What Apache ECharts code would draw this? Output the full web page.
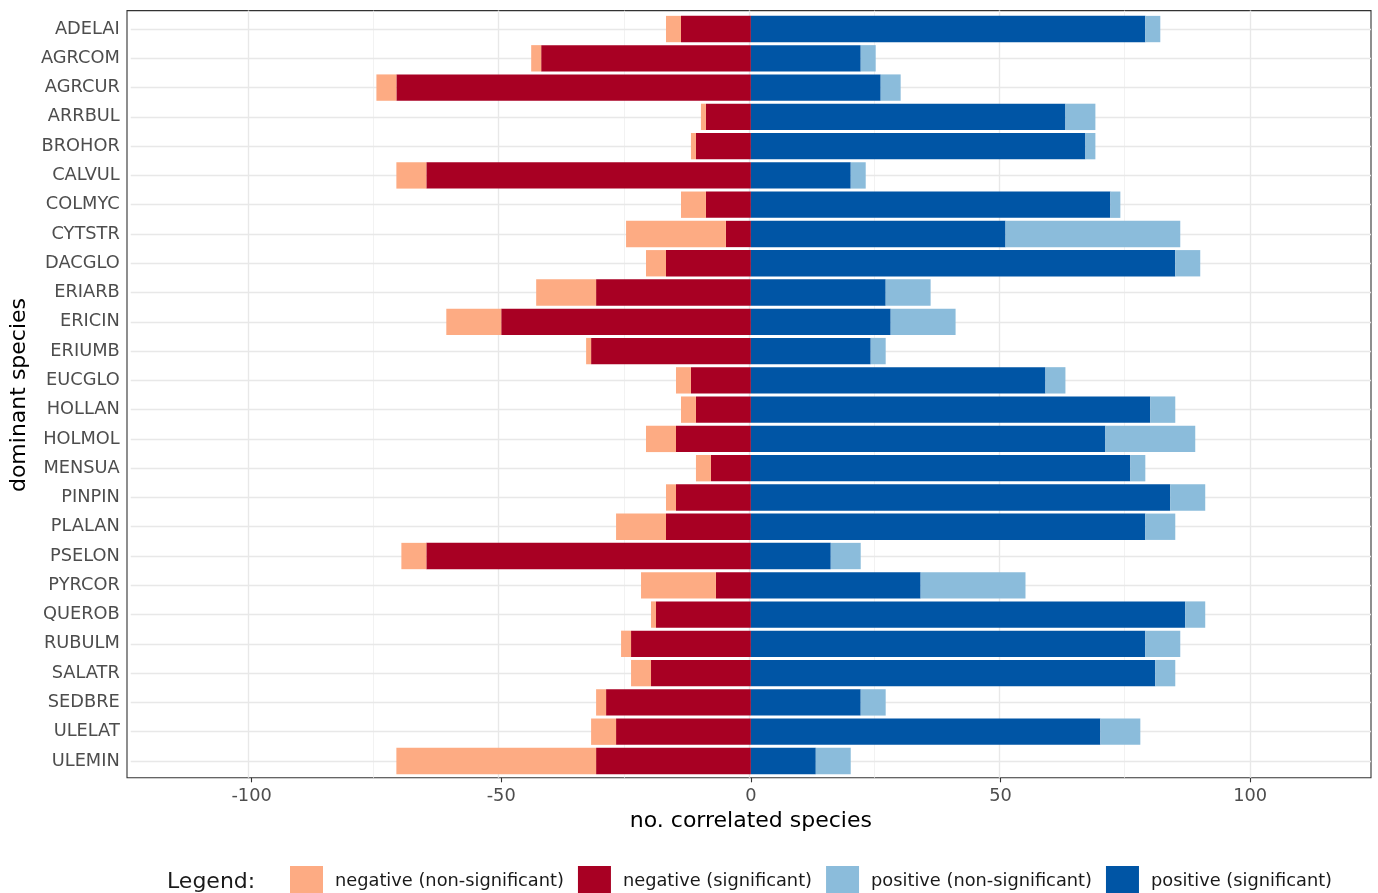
<!DOCTYPE html>
<html>
<head>
<meta charset="utf-8">
<title>Correlated species per dominant species</title>
<script src="https://cdn.jsdelivr.net/npm/echarts@6/dist/echarts.min.js"></script>
<style>
  html, body { margin: 0; padding: 0; background: #ffffff; }
  #chart { width: 1378px; height: 893px; }
</style>
</head>
<body>
<div id="chart"></div>
<script>
// Dominant species (top to bottom)
const species = ['ADELAI', 'AGRCOM', 'AGRCUR', 'ARRBUL', 'BROHOR', 'CALVUL', 'COLMYC', 'CYTSTR',
  'DACGLO', 'ERIARB', 'ERICIN', 'ERIUMB', 'EUCGLO', 'HOLLAN', 'HOLMOL', 'MENSUA', 'PINPIN',
  'PLALAN', 'PSELON', 'PYRCOR', 'QUEROB', 'RUBULM', 'SALATR', 'SEDBRE', 'ULELAT', 'ULEMIN'];

// Number of negatively correlated species (counts, drawn to the left of zero)
const negSignificant    = [14, 42, 71, 9, 11, 65, 9, 5, 17, 31, 50, 32, 12, 11, 15, 8, 15, 17, 65, 7, 19, 24, 20, 29, 27, 31];
const negNonSignificant = [3, 2, 4, 1, 1, 6, 5, 20, 4, 12, 11, 1, 3, 3, 6, 3, 2, 10, 5, 15, 1, 2, 4, 2, 5, 40];

// Number of positively correlated species
const posSignificant    = [79, 22, 26, 63, 67, 20, 72, 51, 85, 27, 28, 24, 59, 80, 71, 76, 84, 79, 16, 34, 87, 79, 81, 22, 70, 13];
const posNonSignificant = [3, 3, 4, 6, 2, 3, 2, 35, 5, 9, 13, 3, 4, 5, 18, 3, 7, 6, 6, 21, 4, 7, 4, 5, 8, 7];

// Axis ticks
const xTicks = [-100, -50, 0, 50, 100];
const xMinorTicks = [-75, -25, 25, 75];
const xLimit = 124.2;

const FONT = 'DejaVu Sans';
const colors = {
  negNon: '#FDAB83',
  negSig: '#A80023',
  posNon: '#8BBCDB',
  posSig: '#0055A5'
};

const majorLine = { color: '#E8E8E8', width: 1.4, type: 'solid' };
const minorLine = { color: '#EFEFEF', width: 0.8, type: 'solid' };

const chart = echarts.init(document.getElementById('chart'), null, { renderer: 'canvas' });

const barSeries = (name, values, color, sign) => ({
  name: name,
  type: 'bar',
  stack: 'total',
  xAxisIndex: 0,
  yAxisIndex: 0,
  barWidth: '90%',
  z: 3,
  itemStyle: { color: color },
  data: values.map(v => sign * v)
});

chart.setOption({
  animation: false,
  textStyle: { fontFamily: FONT },
  grid: [
    // panel frame
    { left: 127, right: 7, top: 10.6, bottom: 115.2, show: true, backgroundColor: '#ffffff',
      borderColor: '#333333', borderWidth: 1.1, containLabel: false },
    // data area (categories padded like the frame)
    { left: 127, right: 7, top: 14.4, bottom: 117.4, show: false, containLabel: false }
  ],
  xAxis: [
    {
      type: 'value', gridIndex: 1, min: -xLimit, max: xLimit, offset: 2.2,
      axisLine: { show: false },
      axisTick: { show: true, length: 4.5, customValues: xTicks, lineStyle: { color: '#333333', width: 1.1 } },
      axisLabel: { customValues: xTicks, fontSize: 17.8, color: '#4D4D4D', margin: 9.5, fontFamily: FONT },
      splitLine: { show: false },
      name: 'no. correlated species', nameLocation: 'middle', nameGap: 27.5,
      nameTextStyle: { fontSize: 22, color: '#000000', fontFamily: FONT }
    },
    { type: 'value', gridIndex: 0, min: -xLimit, max: xLimit, show: false }
  ],
  yAxis: [
    {
      type: 'category', gridIndex: 1, data: species, inverse: true,
      axisLine: { show: false },
      axisTick: { show: true, alignWithLabel: true, length: 4.5, lineStyle: { color: '#333333', width: 1.1 } },
      axisLabel: { fontSize: 17.8, color: '#4D4D4D', margin: 11, fontFamily: FONT },
      splitLine: { show: false },
      name: 'dominant species', nameLocation: 'middle', nameRotate: 90, nameGap: 95,
      nameTextStyle: { fontSize: 22, color: '#000000', fontFamily: FONT }
    },
    { type: 'value', gridIndex: 0, min: 0, max: 1, show: false }
  ],
  legend: {
    data: ['negative (non-significant)', 'negative (significant)', 'positive (non-significant)', 'positive (significant)'],
    left: 290, top: 866, orient: 'horizontal', padding: 0,
    icon: 'rect', itemWidth: 33, itemHeight: 30, itemGap: 14,
    textStyle: { fontSize: 17.8, color: '#1A1A1A', fontFamily: FONT, padding: [0, 0, 0, 7] }
  },
  graphic: [
    { type: 'text', left: 167, top: 871, style: { text: 'Legend:', fontSize: 22, fill: '#1A1A1A', fontFamily: FONT } }
  ],
  series: [
    // vertical grid lines across the whole panel
    {
      type: 'line', xAxisIndex: 1, yAxisIndex: 1, data: [], silent: true,
      markLine: {
        silent: true, symbol: 'none', z: 1, animation: false,
        label: { show: false },
        data: xMinorTicks.map(v => ({ xAxis: v, lineStyle: minorLine }))
          .concat(xTicks.map(v => ({ xAxis: v, lineStyle: majorLine })))
      }
    },
    // horizontal grid lines through each category
    {
      type: 'line', xAxisIndex: 0, yAxisIndex: 0, data: [], silent: true,
      markLine: {
        silent: true, symbol: 'none', z: 1, animation: false,
        label: { show: false },
        data: species.map(s => ({ yAxis: s, lineStyle: majorLine }))
      }
    },
    barSeries('negative (significant)', negSignificant, colors.negSig, -1),
    barSeries('negative (non-significant)', negNonSignificant, colors.negNon, -1),
    barSeries('positive (significant)', posSignificant, colors.posSig, 1),
    barSeries('positive (non-significant)', posNonSignificant, colors.posNon, 1)
  ]
});
</script>
</body>
</html>
